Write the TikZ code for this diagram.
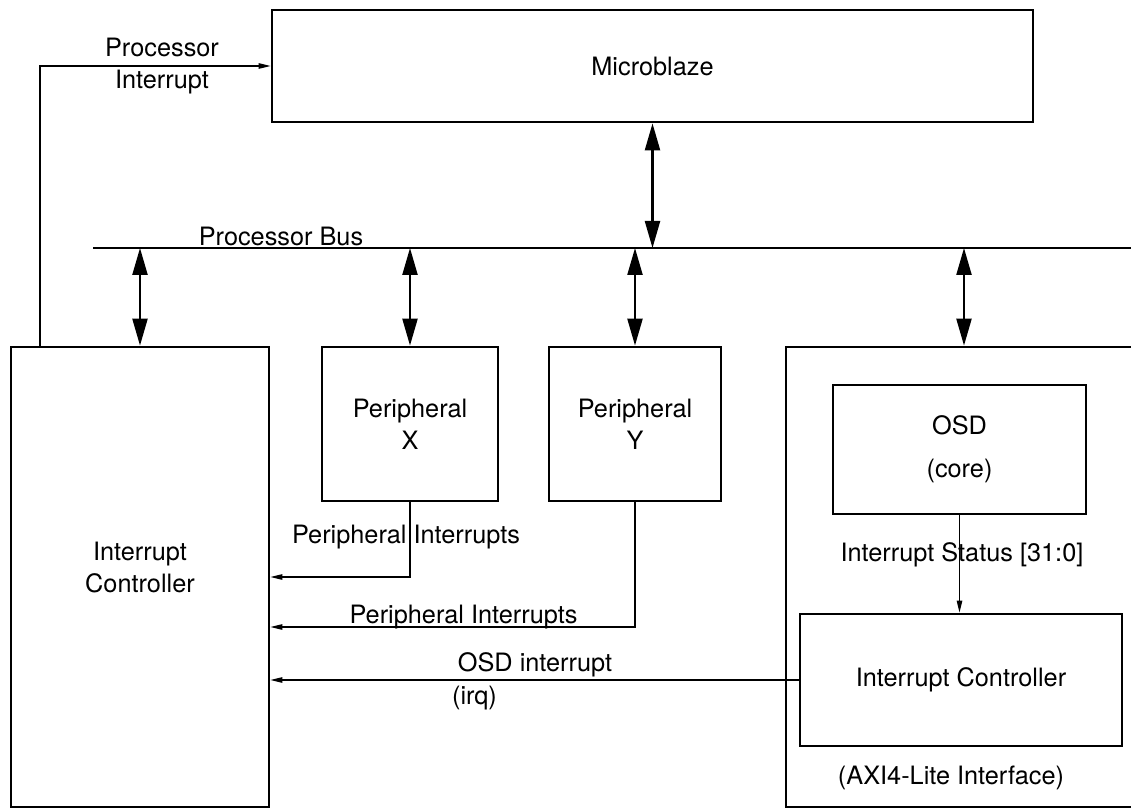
\documentclass[tikz,border=0pt]{standalone}
\usepackage{fontspec}
\setmainfont{TeX Gyre Heros}
\usetikzlibrary{arrows.meta}

\begin{document}
\begin{tikzpicture}[
	blk/.style={draw, line width=1.6pt, align=center, inner sep=0pt},
	bidir/.style={line width=1.3pt, {Triangle[length=5.4mm,width=3mm]}-{Triangle[length=5.4mm,width=3mm]}},
	sig/.style={line width=0.6pt, -{Triangle[length=2.4mm,width=1.1mm]}},
	lbl/.style={inner sep=0pt, align=center},
	font=\fontsize{14.4}{18}\selectfont]
  \useasboundingbox (0,0) rectangle (22.62,16.18);

	\node[blk, minimum width=15.22cm, minimum height=2.24cm] (mb) at (13.05,14.86) {Microblaze};

	\coordinate (busL) at (1.86,11.22);
	\coordinate (busR) at (22.62,11.22);
	\draw[line width=1.6pt] (busL) -- (busR);
	\node[lbl] (buslbl) at (5.62,11.46) {Processor Bus};

	\node[blk, minimum width=5.16cm, minimum height=9.2cm] (ic) at (2.8,4.64) {};
	\node[lbl] (iclbl) at (2.8,4.83) {Interrupt\\Controller};
	\node[blk, minimum width=3.52cm, minimum height=3.08cm] (px) at (8.2,7.7) {Peripheral\\X};
	\node[blk, minimum width=3.44cm, minimum height=3.08cm] (py) at (12.7,7.7) {Peripheral\\Y};
	\node[blk, minimum width=7.12cm, minimum height=9.2cm] (axi) at (19.28,4.64) {};
	\node[blk, minimum width=5.06cm, minimum height=2.58cm] (osd) at (19.19,7.19) {OSD\\[0.23cm](core)};
	\node[blk, minimum width=6.44cm, minimum height=2.64cm] (iic) at (19.22,2.58) {Interrupt Controller};
	\node[lbl] (axilbl) at (19.02,0.62) {(AXI4-Lite Interface)};

	\draw[bidir] (mb.south) -- (mb.south |- busL);
	\draw[bidir] (busL -| ic.north) -- (ic.north);
	\draw[bidir] (busL -| px.north) -- (px.north);
	\draw[bidir] (busL -| py.north) -- (py.north);
	\draw[bidir] (busL -| axi.north) -- (axi.north);

	\draw[sig] ([xshift=-2cm]ic.north) |- (mb.west);
	\node[lbl] (pilbl) at (3.24,14.86) {Processor\\Interrupt};

	\draw[sig] (px.south) |- (ic.east);
	\node[lbl] (pxlbl) at (8.12,5.44) {Peripheral Interrupts};
	\draw[sig] (py.south) |- ([yshift=-1cm]ic.east);
	\node[lbl] (pylbl) at (9.27,3.84) {Peripheral Interrupts};
	\draw[sig] (iic.west) -- (iic.west -| ic.east);
	\node[lbl] (osdlbl) at (10.7,2.88) {OSD interrupt};
	\node[lbl] (irqlbl) at (9.49,2.22) {(irq)};

	\draw[sig] (osd.south) -- (osd.south |- iic.north);
	\node[lbl] (stlbl) at (19.24,5.08) {Interrupt Status [31:0]};
\end{tikzpicture}
\end{document}
